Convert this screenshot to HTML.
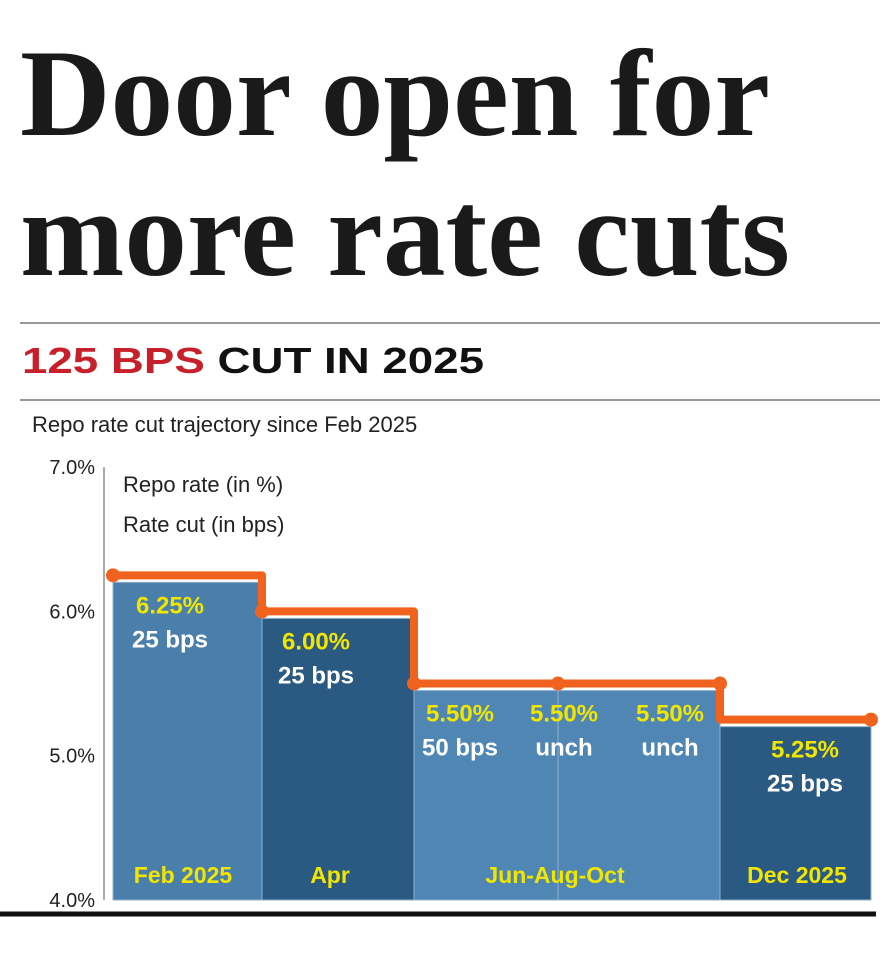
<!DOCTYPE html>
<html><head><meta charset="utf-8"><style>
body{margin:0;background:#fff}
svg{display:block;font-family:"Liberation Sans",sans-serif}
</style></head><body>
<svg width="893" height="957" viewBox="0 0 893 957">
<text x="20" y="135" font-family="Liberation Serif" font-weight="bold" font-size="124" fill="#1a1a1a" textLength="750" lengthAdjust="spacingAndGlyphs">Door open for</text>
<text x="20" y="275" font-family="Liberation Serif" font-weight="bold" font-size="124" fill="#1a1a1a" textLength="770" lengthAdjust="spacingAndGlyphs">more rate cuts</text>
<line x1="20" y1="323" x2="880" y2="323" stroke="#999" stroke-width="2"/>
<text x="22" y="373" font-size="36" font-weight="bold" fill="#111" textLength="462" lengthAdjust="spacingAndGlyphs"><tspan fill="#c8202a">125 BPS</tspan> CUT IN 2025</text>
<line x1="20" y1="400" x2="880" y2="400" stroke="#999" stroke-width="2"/>
<text x="32" y="432" font-size="22" fill="#222">Repo rate cut trajectory since Feb 2025</text>
<g id="axis"></g>
<g id="bars"></g>
<g id="line"></g>
<g id="labels"></g>
<text x="123" y="492" font-size="22" fill="#222">Repo rate (in %)</text>
<text x="123" y="532" font-size="22" fill="#222">Rate cut (in bps)</text>
<line x1="0" y1="914" x2="876" y2="914" stroke="#111" stroke-width="5"/>
</svg>
<script>
const ticks=[4,5,6,7];
const tickLabels=["4.0%","5.0%","6.0%","7.0%"];
const months=["Feb","Apr","Jun","Aug","Oct","Dec"];
const rates=[6.25,6.00,5.50,5.50,5.50,5.25];
const cuts=["25 bps","25 bps","50 bps","unch","unch","25 bps"];
const barNames=["feb","apr","jun","aug-oct","dec"];
const barRates=[6.25,6.00,5.50,5.50,5.25];
const groups=["Feb 2025","Apr","Jun-Aug-Oct","Dec 2025"];
const NS="http://www.w3.org/2000/svg";
const y=v=>900-(v-4)*144.3;
const xs=[113,262,414,558,720,871];
function mk(t,a,p){const e=document.createElementNS(NS,t);for(const k in a)e.setAttribute(k,a[k]);p.appendChild(e);return e;}
const ax=document.getElementById('axis'),bg=document.getElementById('bars'),lg=document.getElementById('line'),lb=document.getElementById('labels');
const axl=mk('line',{x1:104,y1:y(7),x2:104,y2:y(4),stroke:'#aaa','stroke-width':2},ax);


ticks.forEach((t,i)=>{
 const tl=mk('text',{x:95,y:y(t)+7,'font-size':20,fill:'#222','text-anchor':'end'},ax);tl.textContent=tickLabels[i];
 
 
});
const fills=['#4a7fac','#2a5a82','#4f86b4','#4f86b4','#2a5a82'];
barRates.forEach((v,i)=>{
 const x0=xs[i],x1=xs[i+1];
 const r=mk('rect',{x:x0,y:y(v)+7,width:x1-x0,height:900-y(v)-7,fill:fills[i],stroke:'#8fb0cc','stroke-width':1},bg);
 
 
});
let d='M'+xs[0]+' '+y(barRates[0]);
for(let i=1;i<barRates.length;i++){d+=' H'+xs[i]+' V'+y(barRates[i]);}
d+=' H'+xs[barRates.length];
const p=mk('path',{d:d,fill:'none',stroke:'#f0621e','stroke-width':8,'stroke-linejoin':'round'},lg);


rates.forEach((r,i)=>{
 const c=mk('circle',{cx:xs[i],cy:y(r),r:7,fill:'#f0621e'},lg);
 
 
});
const lx=[170,316,460,564,670,805];
rates.forEach((r,i)=>{
 const t1=mk('text',{x:lx[i],y:y(r)+38,'font-size':24,'font-weight':'bold',fill:'#f2e600','text-anchor':'middle'},lb);t1.textContent=r.toFixed(2)+'%';
 
 
 const t2=mk('text',{x:lx[i],y:y(r)+72,'font-size':24,'font-weight':'bold',fill:'#fff','text-anchor':'middle'},lb);t2.textContent=cuts[i];
 
 
});
const gx=[183,330,555,797];
groups.forEach((g,i)=>{
 const t=mk('text',{x:gx[i],y:883,'font-size':23,'font-weight':'bold',fill:'#f2e600','text-anchor':'middle'},lb);t.textContent=g;
 
 
});
</script>
</body></html>
